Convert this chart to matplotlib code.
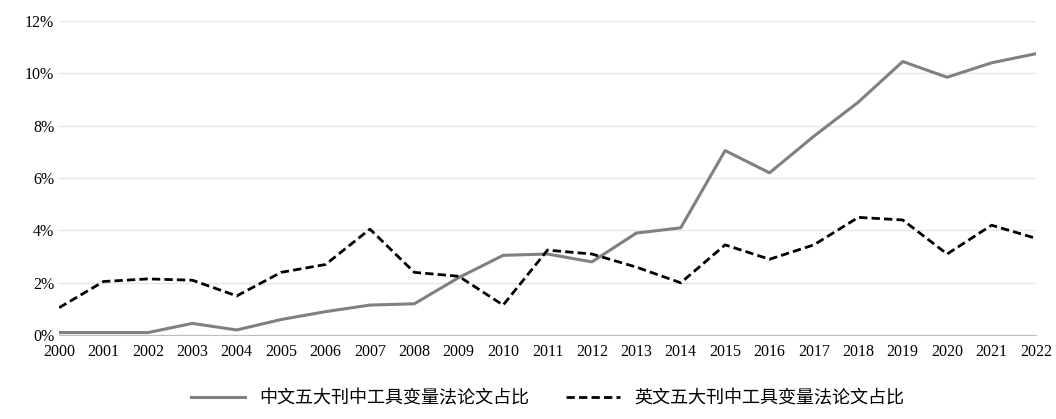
import matplotlib
matplotlib.use("Agg")
import matplotlib.pyplot as plt
from matplotlib.ticker import FuncFormatter

years = list(range(2000, 2023))
cn = [0.1,0.1,0.1,0.45,0.2,0.6,0.9,1.15,1.2,2.2,3.05,3.1,2.8,3.9,4.1,7.05,6.2,7.6,8.9,10.45,9.85,10.4,10.75]
en = [1.05,2.05,2.15,2.1,1.5,2.4,2.7,4.05,2.4,2.25,1.15,3.25,3.1,2.6,2.0,3.45,2.9,3.45,4.5,4.4,3.1,4.2,3.7]
labels = ["中文五大刊中工具变量法论文占比", "英文五大刊中工具变量法论文占比"]

plt.rcParams['font.family'] = ['Liberation Serif', 'Noto Sans CJK SC']
fig = plt.figure(figsize=(10.56, 4.19), dpi=100)
ax = fig.add_axes([0.056, 0.2, 0.925, 0.75])
ax.plot(years, cn, color='#808080', lw=2.2, label=labels[0])
ax.plot(years, en, color='black', lw=2, ls=(0, (3, 1.5)), label=labels[1])
ax.set_xlim(2000, 2022)
ax.set_ylim(0, 12)
ax.set_xticks(years)
ax.set_yticks(range(0, 13, 2))
ax.yaxis.set_major_formatter(FuncFormatter(lambda v, p: f"{int(v)}%"))
ax.grid(axis='y', color='#e6e6e6', lw=1)
for s in ['top', 'right', 'left']:
    ax.spines[s].set_visible(False)
ax.spines['bottom'].set_color('#bfbfbf')
ax.tick_params(length=0, labelsize=11.5)
ax.tick_params(axis='x', pad=6)
leg = ax.legend(loc='upper center', bbox_to_anchor=(0.5, -0.12), ncol=2, frameon=False,
                prop={'family': ['Noto Sans CJK SC'], 'size': 13}, handlelength=3, columnspacing=2)
fig.savefig('out.png', dpi=100)
